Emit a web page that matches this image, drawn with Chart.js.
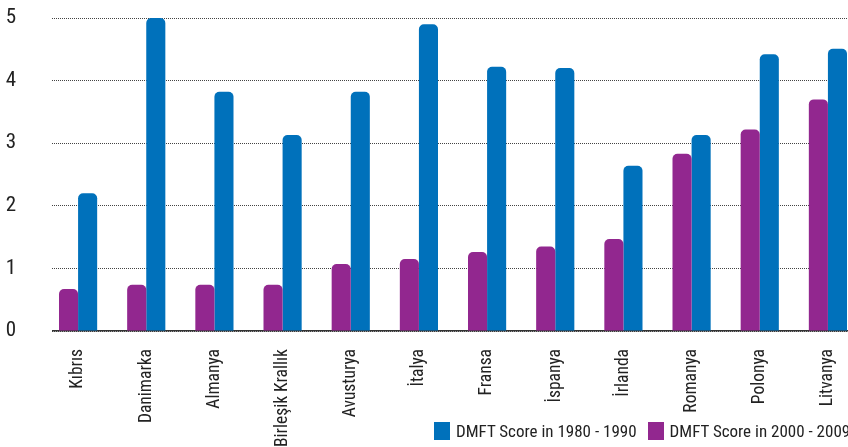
<!DOCTYPE html>
<html>
<head>
<meta charset="utf-8">
<script src="https://cdn.jsdelivr.net/npm/chart.js@4.4.0/dist/chart.umd.min.js"></script>
<style>
    body {
        margin: 0;
        width: 848px;
        height: 447px;
        overflow: hidden;
        background: #fff;
        position: relative;
    }
    #wrap {
        position: absolute;
        left: 0;
        top: 0;
        width: 870px;
        height: 447px;
    }
    #legend {
        position: absolute;
        left: 434px;
        top: 420px;
        white-space: nowrap;
        font-family: "Roboto Condensed", "DejaVu Sans Condensed", sans-serif;
        font-size: 17px;
        line-height: 22px;
        color: #222;
    }
    .item {
        display: inline-block;
        margin-right: 11px;
    }
    .box {
        display: inline-block;
        width: 16px;
        height: 18px;
        vertical-align: -3px;
        margin-right: 6px;
    }
</style>
</head>
<body>
<div id="wrap"><canvas id="dmftChart" width="870" height="447"></canvas></div>
<div id="legend"></div>

<script>
let countries = ["Kıbrıs", "Danimarka", "Almanya", "Birleşik Krallık", "Avusturya", "İtalya",
    "Fransa", "İspanya", "İrlanda", "Romanya", "Polonya", "Litvanya"];
let score1980 = [2.2, 5.0, 3.82, 3.13, 3.82, 4.9, 4.22, 4.2, 2.64, 3.13, 4.42, 4.51];
let score2000 = [0.67, 0.74, 0.74, 0.74, 1.07, 1.15, 1.26, 1.35, 1.47, 2.83, 3.22, 3.7];
let yTicks = [0, 1, 2, 3, 4, 5];

let blue = "#0071bb";
let purple = "#92278f";
let condensed = "'Roboto Condensed', 'DejaVu Sans Condensed', sans-serif";

// grid lines in the original start a bit right of the category band
let gridGap = {
    id: "gridGap",
    beforeDatasetsDraw: function (chart) {
        let a = chart.chartArea;
        let c = chart.ctx;
        c.save();
        c.fillStyle = "#fff";
        c.fillRect(a.left - 1, a.top - 2, 9, a.bottom - a.top + 4);
        c.restore();
    }
};

let ctx = document.getElementById("dmftChart").getContext("2d");

let chart = new Chart(ctx, {
    type: "bar",
    data: {
        labels: countries,
        datasets: [
            {
                label: "DMFT Score in 2000 - 2009",
                data: score2000,
                backgroundColor: purple,
                borderRadius: 5,
                borderSkipped: "start"
            },
            {
                label: "DMFT Score in 1980 - 1990",
                data: score1980,
                backgroundColor: blue,
                borderRadius: 5,
                borderSkipped: "start"
            }
        ]
    },
    options: {
        responsive: false,
        animation: false,
        layout: {
            padding: { left: 0, right: 8, top: 18, bottom: 0 }
        },
        plugins: {
            legend: { display: false },
            tooltip: { enabled: false }
        },
        datasets: {
            bar: { barPercentage: 1, categoryPercentage: 0.56 }
        },
        scales: {
            x: {
                grid: { display: false, drawTicks: false },
                border: { display: true, color: "#333", width: 1.5 },
                ticks: {
                    maxRotation: 90,
                    minRotation: 90,
                    padding: 18,
                    color: "#222",
                    font: { family: condensed, size: 17.5 }
                },
                afterFit: function (scale) {
                    scale.height = 116;
                    scale.paddingLeft = 0;
                    scale.paddingRight = 0;
                }
            },
            y: {
                min: 0,
                max: 5,
                afterBuildTicks: function (axis) {
                    axis.ticks = yTicks.map(function (v) { return { value: v }; });
                },
                grid: { color: "#444", lineWidth: 1, drawTicks: false },
                border: { display: false, dash: [1, 1] },
                ticks: {
                    padding: 28,
                    color: "#222",
                    font: { family: condensed, size: 21 }
                },
                afterFit: function (scale) {
                    scale.width = 44;
                    scale.paddingTop = 0;
                    scale.paddingBottom = 0;
                }
            }
        }
    },
    plugins: [gridGap]
});

// legend, blue first like the original
let legend = document.getElementById("legend");
let order = [1, 0];
order.forEach(function (i) {
    let ds = chart.data.datasets[i];
    let item = document.createElement("span");
    item.className = "item";
    let box = document.createElement("span");
    box.className = "box";
    box.style.background = ds.backgroundColor;
    item.appendChild(box);
    item.appendChild(document.createTextNode(ds.label));
    legend.appendChild(item);
});
</script>
</body>
</html>
